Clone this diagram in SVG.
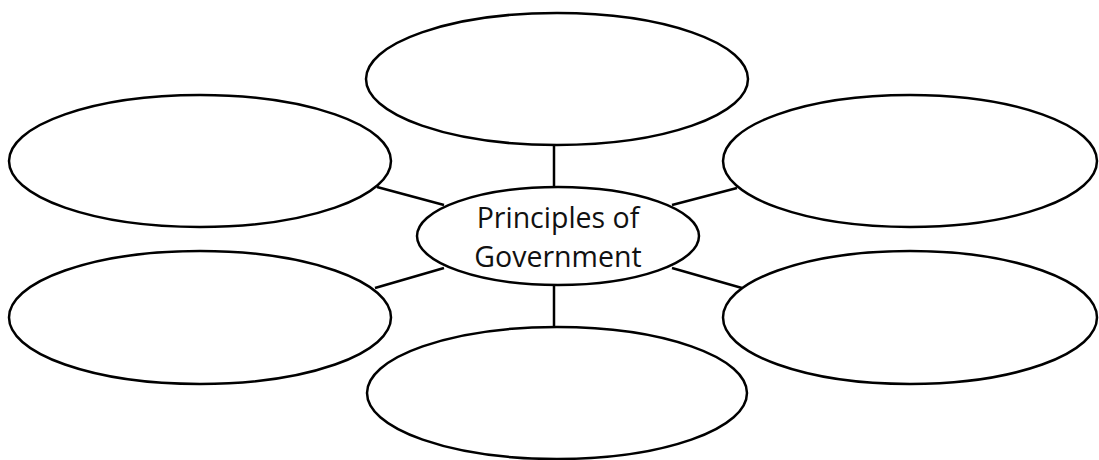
<svg xmlns="http://www.w3.org/2000/svg" width="1099" height="460" viewBox="0 0 1099 460">
<style>
.n{fill:#fff;stroke:#000;stroke-width:2.5}
.c{stroke:#000;stroke-width:2.5;fill:none}
.t{font-family:"Open Sans","Noto Sans",sans-serif;font-size:28.5px;fill:#111;text-anchor:middle}
</style>
<rect width="1099" height="460" fill="#fff"/>
<g id="connectors">
<line class="c" x1="554" y1="145" x2="554" y2="188"/>
<line class="c" x1="554" y1="284" x2="554" y2="328"/>
<line class="c" x1="377" y1="187" x2="444" y2="205"/>
<line class="c" x1="672" y1="205" x2="737" y2="188"/>
<line class="c" x1="375" y1="288" x2="444" y2="268"/>
<line class="c" x1="672" y1="268" x2="742" y2="288"/>
</g>
<g id="node-top"><ellipse class="n" cx="557" cy="79" rx="191" ry="66"/></g>
<g id="node-top-left"><ellipse class="n" cx="200" cy="161" rx="191" ry="66"/></g>
<g id="node-top-right"><ellipse class="n" cx="910" cy="161" rx="187" ry="66"/></g>
<g id="node-bottom-left"><ellipse class="n" cx="200" cy="317.5" rx="191" ry="66.5"/></g>
<g id="node-bottom-right"><ellipse class="n" cx="910" cy="317.5" rx="187" ry="66.5"/></g>
<g id="node-bottom"><ellipse class="n" cx="557" cy="393" rx="190" ry="66"/></g>
<g id="node-center">
<ellipse class="n" cx="558" cy="236" rx="141" ry="49"/>
<text class="t" x="558" y="228">Principles of</text>
<text class="t" x="558" y="267">Government</text>
</g>
</svg>
